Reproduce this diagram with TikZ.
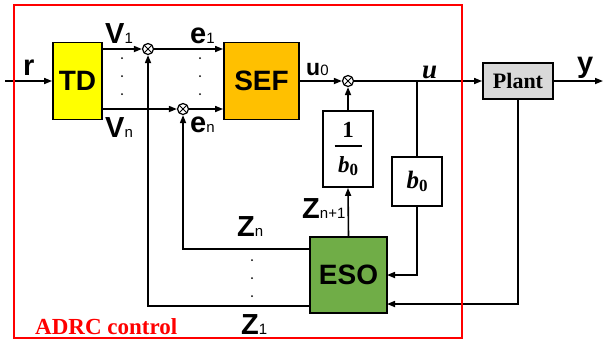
\documentclass[tikz,border=0pt]{standalone}
\usepackage{fontspec}
\setmainfont{Liberation Serif}
\setsansfont{Liberation Sans}
\usetikzlibrary{arrows.meta}
\definecolor{tdyellow}{HTML}{FFFF00}
\definecolor{sefor}{HTML}{FFC000}
\definecolor{esogreen}{HTML}{70AD47}
\definecolor{plantgray}{HTML}{D9D9D9}
\definecolor{adrcred}{HTML}{FF0000}
\newcommand\smallsub[1]{{\mdseries\fontsize{15}{15}\selectfont #1}}
\newcommand\bzerotext{\textit{b}\raisebox{-3pt}{\fontsize{17}{17}\selectfont 0}}
\begin{document}
\begin{tikzpicture}[x=1pt,y=-1pt,
  blk/.style={draw=black, line width=1.8pt, inner sep=0pt,
    font={\sffamily\bfseries\fontsize{28}{30}\selectfont}},
  wire/.style={line width=1.6pt},
  arr/.style={wire, -{Triangle[length=8pt,width=6pt]}},
  sumn/.style={circle, draw=black, line width=1.2pt, minimum size=11pt, inner sep=0pt, fill=white,
    path picture={\draw[line width=0.9pt] (path picture bounding box.north west) -- (path picture bounding box.south east)
      (path picture bounding box.north east) -- (path picture bounding box.south west);}},
  lab/.style={anchor=base west, inner sep=0pt, font={\sffamily\bfseries\fontsize{29}{30}\selectfont}},
  dotm/.style={fill=black}
]
\useasboundingbox (0,0) rectangle (604,341);

% blocks
\node[blk, fill=tdyellow, minimum width=49pt, minimum height=77pt] (TD) at (77.5,81) {TD};
\node[blk, fill=sefor, minimum width=75pt, minimum height=77pt] (SEF) at (261.5,81) {SEF};
\node[blk, fill=esogreen, minimum width=77pt, minimum height=76pt] (ESO) at (348.5,275) {ESO};
\node[blk, fill=plantgray, minimum width=70pt, minimum height=36pt,
  font={\rmfamily\bfseries\fontsize{22}{24}\selectfont}] (Plant) at (518,81) {Plant};
\node[blk, fill=white, minimum width=50pt, minimum height=76pt, align=center,
  font={\rmfamily\bfseries\fontsize{23}{24}\selectfont}] (invb) at (348,149) {1\\[-15pt]\rule{27pt}{1.3pt}\\[2pt]\bzerotext};
\node[blk, fill=white, minimum width=50pt, minimum height=49pt,
  font={\rmfamily\bfseries\fontsize{25}{26}\selectfont}] (bz) at (417,181.5) {\bzerotext};

% summing junctions
\node[sumn] (s1) at (148,49) {};
\node[sumn] (s2) at (183,109) {};
\node[sumn] (s3) at (348,81) {};

% free ends / bends
\coordinate (rin) at (5,81);
\coordinate (yout) at (603,81);
\coordinate (c1) at (148,306);
\coordinate (c2) at (183,249);
\coordinate (eB) at (387,275);
\coordinate (eP) at (387,304);

% connectors
\draw[arr] (rin) -- (TD.west);
\draw[arr] (TD.east |- s1) -- (s1);
\draw[arr] (TD.east |- s2) -- (s2);
\draw[arr] (s1) -- (SEF.west |- s1);
\draw[arr] (s2) -- (SEF.west |- s2);
\draw[arr] (SEF.east |- s3) -- (s3);
\draw[arr] (s3) -- (Plant.west);
\draw[arr] (Plant.east) -- (yout);
\draw[wire] (bz.north |- s3) -- (bz.north);
\draw[arr] (bz.south) |- (eB);
\draw[arr] (Plant.south) |- (eP);
\draw[arr] (ESO.north) -- (invb.south);
\draw[arr] (invb.north) -- (s3);
\draw[arr] (ESO.west |- c2) -| (s2);
\draw[arr] (ESO.west |- c1) -| (s1);

% dots
\foreach \yy in {58,76,94} {
  \fill[dotm] (122,\yy) circle (1pt);
  \fill[dotm] (200,\yy) circle (1pt);
}
\foreach \yy in {260,278,296} {
  \fill[dotm] (252,\yy) circle (1pt);
}

% ADRC frame
\node[draw=adrcred, line width=2.6pt, minimum width=448pt, minimum height=333pt, inner sep=0pt] (adrc) at (238,171.5) {};
\node[anchor=base west, inner sep=0pt, text=adrcred, font={\rmfamily\bfseries\fontsize{23}{24}\selectfont}] (ladrc) at (35,334) {ADRC control};

% labels
\node[lab] (lr) at (23,75) {r};
\node[lab] (lv1) at (105,43) {V\smallsub{1}};
\node[lab] (lvn) at (105,137) {V\smallsub{n}};
\node[lab] (le1) at (190,43) {e\smallsub{1}};
\node[lab] (len) at (190,132) {e\smallsub{n}};
\node[lab, font={\sffamily\bfseries\fontsize{23}{24}\selectfont}] (lu0) at (306,75) {u\smallsub{0}};
\node[lab, font={\rmfamily\bfseries\itshape\fontsize{27}{28}\selectfont}] (lu) at (422,78) {u};
\node[lab] (ly) at (577,72) {y};
\node[lab] (lzn1) at (302,218) {Z\smallsub{n+1}};
\node[lab] (lzn) at (237,236) {Z\smallsub{n}};
\node[lab] (lz1) at (241,334) {Z\smallsub{1}};
\end{tikzpicture}
\end{document}
